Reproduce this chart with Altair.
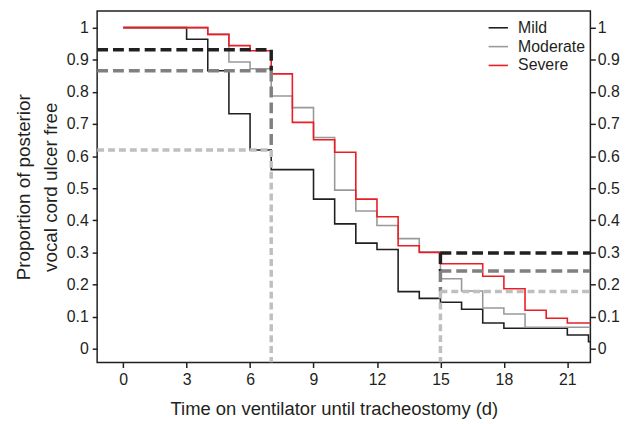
import altair as alt
import pandas as pd

# ---------------- data ----------------
groups = ["Mild", "Moderate", "Severe"]
group_colors = ["#231f20", "#999999", "#ed1c24"]

mild_days = [0, 3, 4, 5, 6, 7, 9, 10, 11, 12, 13, 14, 15, 16, 17, 18, 21, 22]
mild_prop = [1.0, 0.964, 0.866, 0.732, 0.619, 0.558, 0.466, 0.389, 0.329, 0.309,
             0.178, 0.157, 0.145, 0.123, 0.080, 0.064, 0.043, 0.022]

moderate_days = [0, 4, 5, 6, 7, 8, 9, 10, 11, 12, 13, 14, 15, 16, 17, 18, 19]
moderate_prop = [1.0, 0.979, 0.893, 0.872, 0.787, 0.751, 0.658, 0.494, 0.429, 0.384,
                 0.343, 0.302, 0.218, 0.180, 0.127, 0.108, 0.067]

severe_days = [0, 4, 5, 6, 7, 8, 9, 10, 11, 12, 13, 14, 15, 17, 18, 19, 20, 21]
severe_prop = [1.0, 0.979, 0.944, 0.928, 0.856, 0.705, 0.651, 0.612, 0.466, 0.411,
               0.321, 0.300, 0.265, 0.226, 0.187, 0.120, 0.095, 0.080]

# reference (dashed) lines: value of each group at day 7 and day 15
ref_days = [7, 15]
ref_groups = ["Severe", "Moderate", "Mild"]          # drawing order
ref_colors = ["#231f20", "#808080", "#bfbfbf"]
ref_dashes = [[11, 5], [11, 5], [7, 4]]
ref_at_day7 = [0.931, 0.866, 0.619]
ref_at_day15 = [0.298, 0.242, 0.178]

x_ticks = [0, 3, 6, 9, 12, 15, 18, 21]
y_ticks = [0, 0.1, 0.2, 0.3, 0.4, 0.5, 0.6, 0.7, 0.8, 0.9, 1]

X_MIN, X_MAX = -1.23, 22.09
Y_MIN, Y_MAX = -0.043, 1.052

FONT = "Liberation Sans"
INK = "#231f20"

# ---------------- tables ----------------
rows = []
for g, days, props in [("Mild", mild_days, mild_prop),
                       ("Moderate", moderate_days, moderate_prop),
                       ("Severe", severe_days, severe_prop)]:
    for d, p in zip(days, props):
        rows.append({"group": g, "day": d, "prop": p})
    rows.append({"group": g, "day": X_MAX, "prop": props[-1]})
curves_df = pd.DataFrame(rows)

xscale = alt.Scale(domain=[X_MIN, X_MAX], nice=False, zero=False)
yscale = alt.Scale(domain=[Y_MIN, Y_MAX], nice=False, zero=False)

x_axis = alt.Axis(values=x_ticks, title="Time on ventilator until tracheostomy (d)",
                  grid=False, domain=False, tickColor=INK, tickSize=5, tickWidth=1.5,
                  labelFontSize=16, labelColor=INK, labelPadding=4, labelFont=FONT,
                  titleFont=FONT, titleFontSize=18.6, titleFontWeight="normal",
                  titleColor=INK, titlePadding=12, titleX=239, titleAlign="center")
y_axis = alt.Axis(values=y_ticks, format="~g",
                  title=["Proportion of posterior", "vocal cord ulcer free"],
                  grid=False, domain=False, tickColor=INK, tickSize=5, tickWidth=1.5,
                  labelFontSize=16, labelColor=INK, labelPadding=4, labelFont=FONT,
                  titleFont=FONT, titleFontSize=19, titleFontWeight="normal",
                  titleColor=INK, titlePadding=6, titleLineHeight=27)
y_axis_right = alt.Axis(values=y_ticks, format="~g", orient="right", title=None,
                        grid=False, domain=False, tickColor=INK, tickSize=5, tickWidth=1.5,
                        labelFontSize=16, labelColor=INK, labelPadding=2, labelFont=FONT)

curves = alt.Chart(curves_df).mark_line(interpolate="step-after", strokeWidth=1.6,
                                        clip=True).encode(
    x=alt.X("day:Q", scale=xscale, axis=x_axis),
    y=alt.Y("prop:Q", scale=yscale, axis=y_axis),
    color=alt.Color("group:N",
                    scale=alt.Scale(domain=groups, range=group_colors),
                    legend=alt.Legend(title=None, orient="none", legendX=394, legendY=6,
                                      symbolType="stroke", symbolSize=380,
                                      symbolStrokeWidth=1.6, labelFontSize=16,
                                      labelFont=FONT, labelColor=INK, labelOffset=9,
                                      rowPadding=0, padding=0)),
    detail="group:N",
)

dash_layers = []
for i, g in enumerate(ref_groups):
    segs = []
    for day, vals in zip(ref_days, [ref_at_day7, ref_at_day15]):
        v = vals[i]
        below = vals[i + 1] if i + 1 < len(vals) else Y_MIN
        if day < 10:
            segs.append({"x": X_MIN, "x2": day, "y": v, "y2": v})
        else:
            segs.append({"x": day, "x2": X_MAX, "y": v, "y2": v})
        segs.append({"x": day, "x2": day, "y": v, "y2": below})
    seg_df = pd.DataFrame(segs)
    dash_layers.append(
        alt.Chart(seg_df).mark_rule(color=ref_colors[i], strokeDash=ref_dashes[i],
                                    strokeWidth=3.5, clip=True).encode(
            x=alt.X("x:Q", scale=xscale, axis=x_axis),
            x2="x2:Q",
            y=alt.Y("y:Q", scale=yscale, axis=y_axis),
            y2="y2:Q",
        )
    )

main = alt.layer(curves, *dash_layers)

right_axis = alt.Chart(curves_df).mark_point(opacity=0).encode(
    x=alt.X("day:Q", scale=xscale, axis=x_axis),
    y=alt.Y("prop:Q", scale=yscale, axis=y_axis_right),
)

chart = alt.layer(main, right_axis).resolve_scale(y="independent").properties(
    width=498, height=355,
    autosize=alt.AutoSizeParams(type="none"),
    padding={"left": 90, "top": 1, "right": 41, "bottom": 56},
).configure(
    font=FONT,
    view=alt.ViewConfig(stroke=INK, strokeWidth=1.5),
)

chart.save("out.html", embed_options={"renderer": "svg", "actions": False})
